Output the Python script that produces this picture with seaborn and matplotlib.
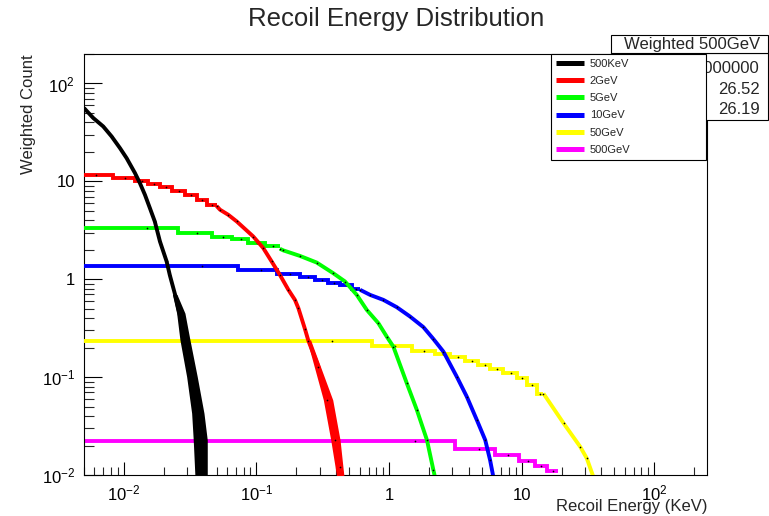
import numpy as np
import pandas as pd
import matplotlib
matplotlib.use("Agg")
import matplotlib.pyplot as plt
import seaborn as sns
from matplotlib.lines import Line2D
from matplotlib.patches import Rectangle
from matplotlib.ticker import FixedLocator, FixedFormatter, LogLocator, NullFormatter

# ---------------------------------------------------------------- data
labels = ["500KeV", "2GeV", "5GeV", "10GeV", "50GeV", "500GeV"]
colors = ["#000000", "#ff0000", "#00ff00", "#0000ff", "#ffff00", "#ff00ff"]

# wide histogram bins (edges incl. the last right edge, and bin contents)
red_edges = [0.004, 0.0083, 0.0121, 0.0153, 0.0187, 0.0229, 0.0289, 0.0354, 0.0421, 0.050]
red_counts = [11.67, 10.8, 10.15, 9.38, 8.66, 7.88, 7.18, 6.49, 5.77]
green_edges = [0.004, 0.0257, 0.0459, 0.065, 0.0867, 0.1159, 0.150]
green_counts = [3.33, 3.0, 2.70, 2.57, 2.37, 2.16]
blue_edges = [0.004, 0.073, 0.142, 0.213, 0.277, 0.348, 0.427, 0.523, 0.604]
blue_counts = [1.37, 1.23, 1.135, 1.06, 0.978, 0.912, 0.863, 0.80]
yellow_edges = [0.004, 0.74, 1.48, 2.22, 2.88, 3.75, 4.72, 5.78, 7.29, 9.20, 10.9, 13.0, 14.6]
yellow_counts = [0.236, 0.208, 0.187, 0.173, 0.162, 0.147, 0.133, 0.121, 0.110, 0.0975, 0.083, 0.068]
magenta_edges = [0.004, 3.15, 6.31, 9.57, 12.6, 15.5, 18.7]
magenta_counts = [0.0224, 0.0184, 0.016, 0.0139, 0.0123, 0.0111]

# fine-binned parts
black_e = [0.005, 0.00587, 0.00698, 0.00807, 0.00933, 0.01047, 0.0121, 0.0132, 0.0144,
           0.0157, 0.0171, 0.0187, 0.0210, 0.0222, 0.0243, 0.0265, 0.0289, 0.0306,
           0.0324, 0.0343, 0.0354, 0.0364, 0.0375, 0.0386]
black_c = [56.1, 44.4, 36.4, 28.8, 21.9, 17.3, 12.2, 9.6, 7.3,
           5.33, 3.89, 2.43, 1.52, 1.1, 0.70, 0.42, 0.24, 0.162,
           0.101, 0.063, 0.043, 0.031, 0.0228, 0.0095]
red_e = [0.050, 0.0531, 0.0613, 0.071, 0.0946, 0.1125, 0.130, 0.150, 0.174, 0.195,
         0.207, 0.232, 0.246, 0.293, 0.339, 0.391, 0.427, 0.445]
red_c = [5.6, 5.13, 4.55, 3.89, 2.73, 2.08, 1.52, 1.11, 0.78, 0.615,
         0.506, 0.31, 0.236, 0.128, 0.0585, 0.0228, 0.0122, 0.0095]
green_e = [0.150, 0.1594, 0.2128, 0.2846, 0.380, 0.4654, 0.5705, 0.679, 0.83, 0.961,
           1.077, 1.36, 1.62, 1.93, 2.16, 2.22]
green_c = [2.05, 1.97, 1.73, 1.48, 1.15, 0.948, 0.692, 0.486, 0.356, 0.259,
           0.205, 0.0867, 0.0462, 0.0228, 0.0112, 0.0095]
blue_e = [0.604, 0.719, 0.906, 1.143, 1.439, 1.815, 2.16, 2.57, 3.24, 3.86, 4.59,
          5.31, 5.78, 6.12]
blue_c = [0.78, 0.692, 0.615, 0.518, 0.416, 0.324, 0.245, 0.182, 0.101, 0.063, 0.0365,
          0.0228, 0.0142, 0.0095]
yellow_e = [14.6, 20.7, 27.6, 31.0, 34.8]
yellow_c = [0.068, 0.0338, 0.0195, 0.0148, 0.0095]

# spread of the noisy low-count tails: count level, leftmost / rightmost energy
black_tail_c = [0.70, 0.45, 0.24, 0.101, 0.0428, 0.0228, 0.0095]
black_tail_lo = [0.02323, 0.02499, 0.02646, 0.02973, 0.03243, 0.03334, 0.03435]
black_tail_hi = [0.02512, 0.02886, 0.03149, 0.03574, 0.04017, 0.04253, 0.04253]
red_tail_c = [0.24, 0.0585, 0.0228, 0.0095]
red_tail_lo = [0.2400, 0.3193, 0.3631, 0.4031]
red_tail_hi = [0.2560, 0.3759, 0.4268, 0.4575]

# statistics box of the 500GeV histogram
stats_title = "Weighted 500GeV"
stats_values = ["1000000", "26.52", "26.19"]

x_major = [1e-2, 1e-1, 1, 10, 100]
x_tick_labels = ["$10^{-2}$", "$10^{-1}$", "1", "10", "$10^{2}$"]
y_major = [1e-2, 1e-1, 1, 10, 100]
y_tick_labels = ["$10^{-2}$", "$10^{-1}$", "1", "10", "$10^{2}$"]

# ---------------------------------------------------------------- style
sns.set_style("white")
plt.rcParams["font.family"] = ["Liberation Sans", "DejaVu Sans"]
plt.rcParams.update({
    "mathtext.fontset": "custom",
    "mathtext.rm": "Liberation Sans",
    "mathtext.it": "Liberation Sans:italic",
    "mathtext.bf": "Liberation Sans:bold",
    "axes.unicode_minus": True,
})

W, H = 769, 516
fig = plt.figure(figsize=(W / 100, H / 100), dpi=100)
ax = fig.add_axes([84 / W, 41 / H, 623 / W, 421 / H])
ax.set_xscale("log")
ax.set_yscale("log")

LW = 2.8
palette = dict(zip(labels, colors))

hist_bins = {
    "2GeV": (red_edges, red_counts),
    "5GeV": (green_edges, green_counts),
    "10GeV": (blue_edges, blue_counts),
    "50GeV": (yellow_edges, yellow_counts),
    "500GeV": (magenta_edges, magenta_counts),
}
fine_parts = {
    "500KeV": (black_e, black_c),
    "2GeV": (red_e, red_c),
    "5GeV": (green_e, green_c),
    "10GeV": (blue_e, blue_c),
    "50GeV": (yellow_e, yellow_c),
}
tails = {
    "500KeV": (black_tail_c, black_tail_lo, black_tail_hi),
    "2GeV": (red_tail_c, red_tail_lo, red_tail_hi),
}

# first histogram drawn lies at the bottom, 500KeV ends on top
draw_order = ["500GeV", "50GeV", "10GeV", "5GeV", "2GeV", "500KeV"]
for k, name in enumerate(draw_order):
    z = 2 + k
    col = palette[name]
    dots_x, dots_y = [], []
    if name in hist_bins:
        edges, counts = hist_bins[name]
        step_df = pd.DataFrame({"energy": edges, "count": list(counts) + [counts[-1]]})
        sns.lineplot(data=step_df, x="energy", y="count", ax=ax, color=col, lw=LW,
                     drawstyle="steps-post", estimator=None, sort=False, zorder=z,
                     solid_joinstyle="miter", solid_capstyle="butt")
        e = np.asarray(edges)
        dots_x += list((e[:-1] + e[1:]) / 2)
        dots_y += list(counts)
    if name in fine_parts:
        fe, fc = fine_parts[name]
        curve_df = pd.DataFrame({"energy": fe, "count": fc})
        sns.lineplot(data=curve_df, x="energy", y="count", ax=ax, color=col, lw=LW,
                     estimator=None, sort=False, zorder=z, solid_capstyle="butt",
                     solid_joinstyle="round")
        dots_x += list(fe)
        dots_y += list(fc)
    if name in tails:
        tc, tlo, thi = tails[name]
        ax.fill_betweenx(tc, tlo, thi, color=col, lw=0, zorder=z)
    sns.scatterplot(x=dots_x, y=dots_y, ax=ax, color="black", s=1.5, linewidth=0,
                    zorder=z + 0.5, legend=False)

ax.set_xlim(0.005, 250)
ax.set_ylim(0.01, 200)

# axes frame and ticks
for sp in ax.spines.values():
    sp.set_color("black")
    sp.set_linewidth(0.8)
    sp.set_visible(True)

ax.xaxis.set_major_locator(FixedLocator(x_major))
ax.xaxis.set_major_formatter(FixedFormatter(x_tick_labels))
ax.xaxis.set_minor_locator(LogLocator(base=10, subs=np.arange(2, 10), numticks=50))
ax.xaxis.set_minor_formatter(NullFormatter())
ax.yaxis.set_major_locator(FixedLocator(y_major))
ax.yaxis.set_major_formatter(FixedFormatter(y_tick_labels))
ax.yaxis.set_minor_locator(LogLocator(base=10, subs=np.arange(2, 10), numticks=50))
ax.yaxis.set_minor_formatter(NullFormatter())

ax.tick_params(axis="x", which="major", direction="in", length=9.4, width=0.8,
               top=False, bottom=True, labelsize=12, pad=18, colors="black")
ax.tick_params(axis="x", which="minor", direction="in", length=5.5, width=0.8,
               top=False, bottom=True)
ax.tick_params(axis="y", which="major", direction="in", length=13, width=0.8,
               right=False, left=True, labelsize=12, pad=6.5, colors="black")
ax.tick_params(axis="y", which="minor", direction="in", length=7, width=0.8,
               right=False, left=True)
for lab in ax.get_xticklabels():
    lab.set_verticalalignment("baseline")

ax.set_xlabel("Recoil Energy (KeV)", fontsize=12, loc="right")
ax.xaxis.set_label_coords(1.0, (475 - 511) / 421)
ax.xaxis.label.set_verticalalignment("baseline")
ax.set_ylabel("Weighted Count", fontsize=12, loc="top")
ax.yaxis.set_label_coords(-0.077, 1.0)

fig.text(396 / W, 1 - 26 / H, "Recoil Energy Distribution", ha="center",
         va="baseline", fontsize=18.5)

# statistics box (its left part lies behind the legend)
fig.add_artist(Rectangle((611 / W, 1 - 119.5 / H), 157 / W, 66.5 / H,
                         transform=fig.transFigure, facecolor="white",
                         edgecolor="black", lw=0.8, zorder=1))
fig.add_artist(Rectangle((611 / W, 1 - 53 / H), 157 / W, 18 / H,
                         transform=fig.transFigure, facecolor="white",
                         edgecolor="black", lw=0.8, zorder=1))
fig.text(692 / W, 1 - 44.5 / H, stats_title, ha="center", va="center", fontsize=12)
for row_y, val in zip([68.3, 90, 110], stats_values):
    fig.text(760 / W, 1 - row_y / H, val, ha="right", va="center", fontsize=12)

# legend
handles = [Line2D([], [], color=c, lw=3.6, solid_capstyle="butt") for c in colors]
leg = fig.legend(handles, labels, loc="upper left",
                 bbox_to_anchor=(551 / W, 1 - 159 / H, 155 / W, 105 / H),
                 mode="expand", borderaxespad=0, fontsize=8, frameon=True,
                 fancybox=False, shadow=False, framealpha=1, edgecolor="black",
                 handlelength=2.52, handletextpad=0.54, labelspacing=0.65,
                 borderpad=0.43)
leg.get_frame().set_linewidth(0.8)

fig.savefig("out.png", dpi=100)
